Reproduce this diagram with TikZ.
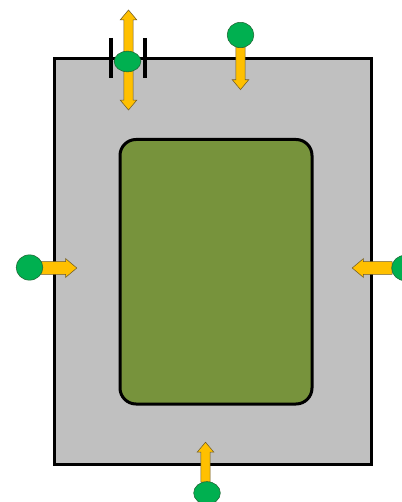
\documentclass[tikz,border=0pt]{standalone}
\usepackage{xcolor}
\usetikzlibrary{shapes.geometric,shapes.arrows}
\definecolor{panelgray}{RGB}{192,192,192}
\definecolor{olive2}{RGB}{119,147,60}
\definecolor{dotgreen}{RGB}{0,176,80}
\definecolor{darkgreen}{RGB}{30,100,50}
\definecolor{amber}{RGB}{255,192,0}
\definecolor{amberline}{RGB}{110,90,40}
\tikzset{
  outerbox/.style={draw=black, line width=2.25pt, fill=panelgray},
  innerbox/.style={draw=black, line width=2.25pt, fill=olive2, rounded corners=12pt},
  greendot/.style={ellipse, draw=darkgreen, line width=0.4pt, fill=dotgreen,
    minimum width=20pt, minimum height=19pt, inner sep=0pt},
  yellowarrow/.style={single arrow, draw=amberline, line width=0.4pt, fill=amber,
    inner xsep=0pt, inner ysep=4.6pt, single arrow head extend=2.3pt,
    single arrow tip angle=80},
  yellowdouble/.style={double arrow, draw=amberline, line width=0.4pt, fill=amber,
    inner xsep=0pt, inner ysep=3.3pt, double arrow head extend=2.7pt,
    double arrow tip angle=80},
  upright/.style={inner xsep=3.3pt, inner ysep=0pt, single arrow head extend=2.7pt},
  barline/.style={line width=3pt, black}
}

\begin{document}
\begin{tikzpicture}[x=0.75pt, y=-0.75pt]
\useasboundingbox (0,0) rectangle (401,502);
% panel and its window
\draw[outerbox] (54,58.5) rectangle (371,464);
\draw[innerbox] (120,139.5) rectangle (312,404);

% pushes towards the panel
\node[yellowdouble, upright, minimum height=75pt, shape border rotate=90] (slide) at (128.5,60) {};
\node[yellowarrow, upright, minimum height=32pt, shape border rotate=270] (down) at (240.5,65.5) {};
\node[yellowarrow, minimum height=27pt, shape border rotate=0] (right) at (55,268) {};
\node[yellowarrow, minimum height=30pt, shape border rotate=180] (left) at (376,268) {};
\node[yellowarrow, upright, minimum height=30pt, shape border rotate=90] (up) at (205.5,465) {};

% stops either side of the slider
\draw[barline] (110.5,38) -- (110.5,78);
\draw[barline] (145,38) -- (145,78);

% points of load
\node[greendot, minimum width=20pt, minimum height=15.5pt] (slider) at (127.5,61.5) {};
\node[greendot] (topdot) at (240.5,35) {};
\node[greendot] (leftdot) at (29.5,267.5) {};
\node[greendot] (rightdot) at (405,268) {};
\node[greendot, minimum width=20pt, minimum height=17pt] (bottomdot) at (207,493) {};
\end{tikzpicture}
\end{document}
